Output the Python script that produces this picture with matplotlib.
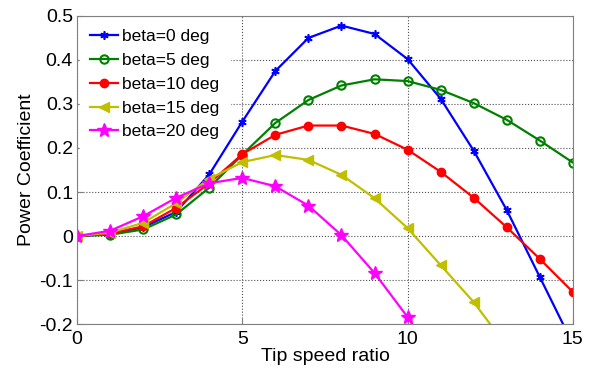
import matplotlib.pyplot as plt

plt.rcParams['font.family'] = ['Liberation Sans', 'DejaVu Sans']

tsr = list(range(16))
cp_b0 = [0, 0.005, 0.02, 0.055, 0.14, 0.26, 0.375, 0.45, 0.478, 0.459, 0.402, 0.312, 0.194, 0.059, -0.093, -0.245]
cp_b5 = [0, 0.003, 0.015, 0.049, 0.11, 0.185, 0.257, 0.309, 0.342, 0.356, 0.352, 0.332, 0.302, 0.264, 0.217, 0.167]
cp_b10 = [0, 0.006, 0.022, 0.064, 0.12, 0.186, 0.23, 0.251, 0.251, 0.232, 0.196, 0.146, 0.087, 0.02, -0.052, -0.127]
cp_b15 = [0, 0.008, 0.03, 0.075, 0.13, 0.168, 0.184, 0.173, 0.139, 0.086, 0.018, -0.066, -0.15, -0.25]
cp_b20 = [0, 0.012, 0.045, 0.087, 0.12, 0.132, 0.113, 0.069, 0.002, -0.084, -0.184, -0.3]

labels = ["beta=0 deg", "beta=5 deg", "beta=10 deg", "beta=15 deg", "beta=20 deg"]

fig = plt.figure(figsize=(5.93, 3.70), dpi=100)
ax = fig.add_axes([0.130, 0.124, 0.836, 0.833])
ax.set_axisbelow(True)

ax.plot(tsr, cp_b0, color="#0000FF", marker=(6, 2, 0), ms=6, mew=1.2, lw=1.6, label=labels[0])
ax.plot(tsr, cp_b5, color="#008000", marker="o", ms=6, mfc="none", mew=1.5, lw=1.6, label=labels[1])
ax.plot(tsr, cp_b10, color="#FF0000", marker="o", ms=6, lw=1.6, label=labels[2])
ax.plot(tsr[:len(cp_b15)], cp_b15, color="#BFBF00", marker="<", ms=7, lw=1.6, label=labels[3])
ax.plot(tsr[:len(cp_b20)], cp_b20, color="#FF00FF", marker="*", ms=10, lw=1.6, label=labels[4])

ax.set_xlim(0, 15)
ax.set_ylim(-0.2, 0.5)
ax.set_xticks([0, 5, 10, 15])
ax.set_yticks([-0.2, -0.1, 0, 0.1, 0.2, 0.3, 0.4, 0.5])
ax.set_yticklabels(["-0.2", "-0.1", "0", "0.1", "0.2", "0.3", "0.4", "0.5"])
ax.tick_params(labelsize=14, direction="in", length=4, color="#808080", pad=3)
ax.tick_params(axis="x", pad=5)
ax.grid(True, linestyle=":", color="#505050", lw=0.8)
for s in ax.spines.values():
    s.set_color("#808080")
ax.set_xlabel("Tip speed ratio", fontsize=14, labelpad=0)
ax.set_ylabel("Power Coefficient", fontsize=14, labelpad=3)

leg = ax.legend(loc="upper left", fontsize=12.5, frameon=True, fancybox=False,
                handlelength=1.6, handletextpad=0.25, labelspacing=0.5,
                borderpad=0.6, borderaxespad=0.15)
leg.get_frame().set_edgecolor("white")
leg.get_frame().set_alpha(1)
leg.set_zorder(1.5)

fig.savefig("out.png", dpi=100)
